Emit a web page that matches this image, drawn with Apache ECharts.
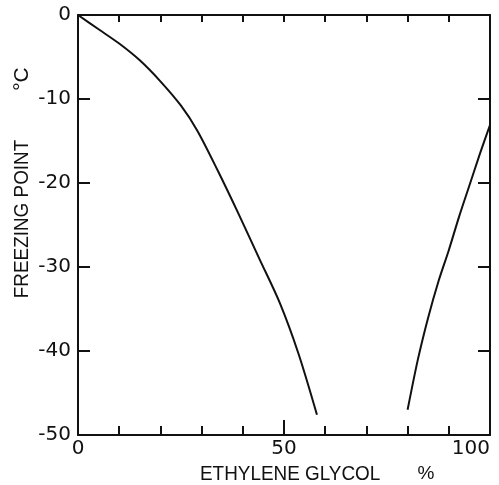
<!DOCTYPE html>
<html>
<head>
<meta charset="utf-8">
<script src="https://cdn.jsdelivr.net/npm/echarts@6/dist/echarts.min.js"></script>
<style>
  html, body { margin: 0; padding: 0; background: #fff; }
  #chart { width: 499px; height: 485px; }
</style>
</head>
<body>
<div id="chart"></div>
<script>
// Freezing point of ethylene glycol / water mixtures (°C vs. % glycol)
const glycolLow  = [0, 5, 10, 15, 20, 25, 29, 34, 39, 44, 49, 53.5, 58];
const freezeLow  = [0, -1.7, -3.4, -5.4, -7.9, -10.8, -13.8, -18.6, -23.7, -29.0, -34.3, -40.3, -47.6];
const glycolHigh = [80, 82.5, 85, 87.5, 90, 92.5, 95, 97.5, 100];
const freezeHigh = [-47, -41, -36, -31.7, -28, -24, -20.3, -16.6, -13.1];
const xTickLabels = [0, 50, 100];
const xTitle = 'ETHYLENE GLYCOL';
const xUnit = '%';
const yTitle = 'FREEZING POINT';
const yUnit = '°C';

const INK = '#111';
const FONT = '"Liberation Sans", Arial, sans-serif';
const TICK_FONT = '"DejaVu Sans", sans-serif';

const zip = (xs, ys) => xs.map((x, i) => [x, ys[i]]);

const chart = echarts.init(document.getElementById('chart'), null, { renderer: 'canvas' });

const lineStyle = { color: INK, width: 2 };
const frameLine = { show: true, onZero: false, lineStyle: { color: INK, width: 2 } };

chart.setOption({
  backgroundColor: '#fff',
  animation: false,
  grid: { left: 78, right: 9, top: 15, bottom: 50 },
  xAxis: [
    {
      type: 'value', position: 'bottom', min: 0, max: 100, interval: 10,
      axisLine: frameLine,
      axisTick: { inside: true, length: 9, lineStyle: { color: INK, width: 2 } },
      axisLabel: {
        color: INK, fontSize: 20, fontFamily: TICK_FONT, margin: 4,
        alignMaxLabel: 'right',
        formatter: v => xTickLabels.includes(v) ? String(v) : ''
      },
      splitLine: { show: false }
    },
    {
      // longer tick at the midpoint of the bottom scale
      type: 'value', position: 'bottom', min: 0, max: 100, interval: 50,
      axisLine: { show: false, onZero: false },
      axisTick: { inside: true, length: 15, lineStyle: { color: INK, width: 2 } },
      axisLabel: { show: false },
      splitLine: { show: false }
    },
    {
      type: 'value', position: 'top', min: 0, max: 100, interval: 10,
      axisLine: frameLine,
      axisTick: { inside: true, length: 7, lineStyle: { color: INK, width: 2 } },
      axisLabel: { show: false },
      splitLine: { show: false }
    }
  ],
  yAxis: [
    {
      type: 'value', position: 'left', min: -50, max: 0, interval: 10,
      axisLine: frameLine,
      axisTick: { inside: true, length: 12, lineStyle: { color: INK, width: 2 } },
      axisLabel: { color: INK, fontSize: 20, fontFamily: TICK_FONT, margin: 7 },
      splitLine: { show: false }
    },
    {
      type: 'value', position: 'right', min: -50, max: 0, interval: 10,
      axisLine: frameLine,
      axisTick: { inside: true, length: 12, lineStyle: { color: INK, width: 2 } },
      axisLabel: { show: false },
      splitLine: { show: false }
    }
  ],
  graphic: [
    { type: 'text', x: 200, y: 474, scaleX: 0.9,
      style: { text: xTitle, fill: INK, font: '21px ' + FONT, verticalAlign: 'middle' } },
    { type: 'text', x: 426, y: 474,
      style: { text: xUnit, fill: INK, font: '19px ' + FONT, align: 'center', verticalAlign: 'middle' } },
    { type: 'text', x: 22, y: 219, rotation: Math.PI / 2, scaleX: 0.9,
      style: { text: yTitle, fill: INK, font: '21px ' + FONT, align: 'center', verticalAlign: 'middle' } },
    { type: 'text', x: 22, y: 79, rotation: Math.PI / 2,
      style: { text: yUnit, fill: INK, font: '21px ' + FONT, align: 'center', verticalAlign: 'middle' } }
  ],
  series: [
    {
      type: 'line', xAxisIndex: 0, yAxisIndex: 0,
      data: zip(glycolLow, freezeLow),
      showSymbol: false, smooth: 0.3, lineStyle, silent: true
    },
    {
      type: 'line', xAxisIndex: 0, yAxisIndex: 0,
      data: zip(glycolHigh, freezeHigh),
      showSymbol: false, smooth: 0.3, lineStyle, silent: true
    }
  ]
});
</script>
</body>
</html>
